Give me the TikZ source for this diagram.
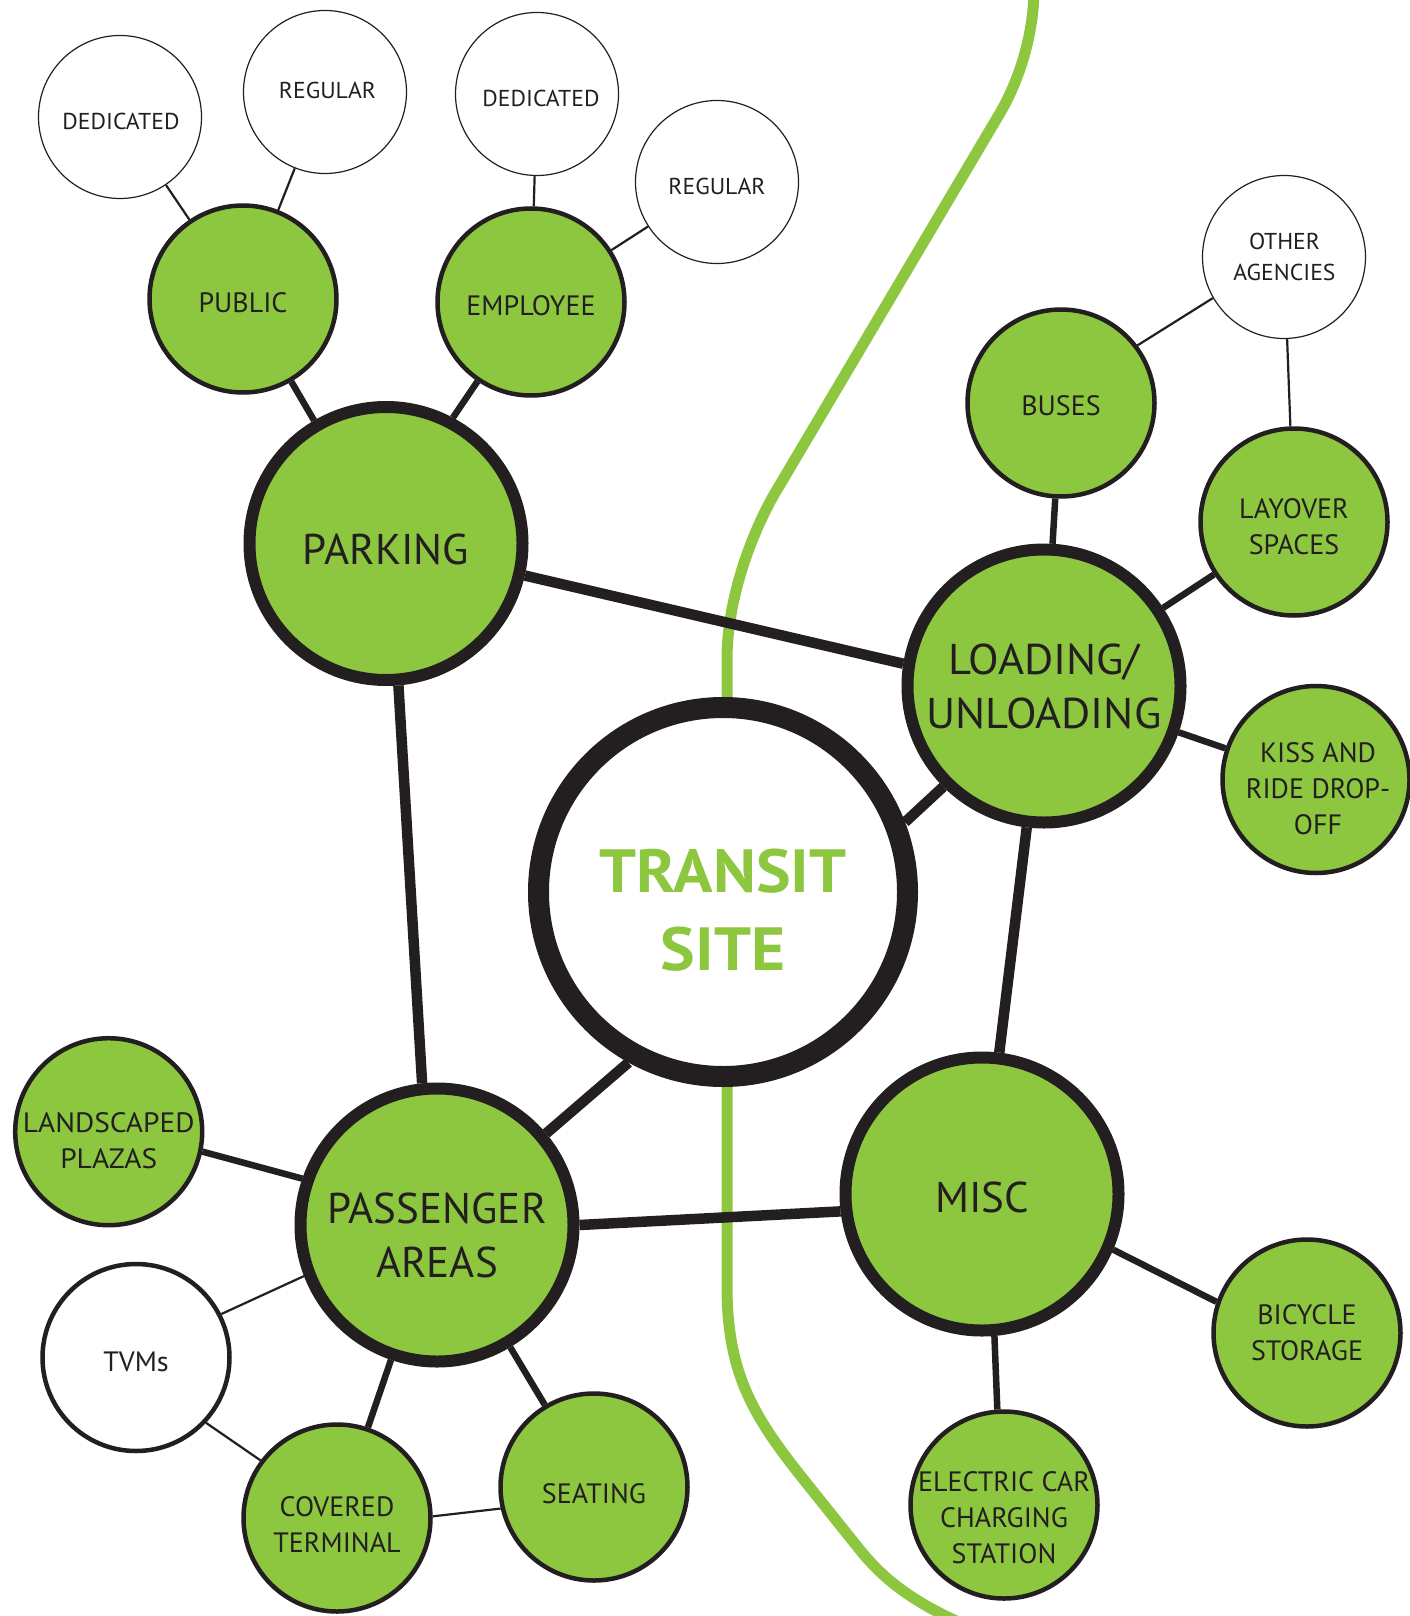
\documentclass[tikz,border=0pt]{standalone}
\usepackage{fontspec}
\setmainfont{PT Sans}
\definecolor{leaf}{HTML}{8DC63F}
\definecolor{ink}{HTML}{231F20}
\pgfdeclarelayer{route}
\pgfdeclarelayer{links}
\pgfsetlayers{route,links,main}
\begin{document}
\begin{tikzpicture}[x=1pt,y=-1pt,
  hub/.style={circle,draw=ink,fill=white,line width=21pt,minimum size=369pt,inner sep=0pt},
  major/.style={circle,draw=ink,fill=leaf,line width=12pt,minimum size=273pt,inner sep=0pt},
  minor/.style={circle,draw=ink,fill=leaf,line width=4.5pt,minimum size=187pt,inner sep=0pt},
  minorwhite/.style={minor,fill=white},
  leafnode/.style={circle,draw=ink,fill=white,line width=1.2pt,minimum size=163pt,inner sep=0pt},
  hubtext/.style={text=leaf,font=\bfseries\fontsize{61}{78}\selectfont\addfontfeature{FakeStretch=1.07},align=center,inner sep=0pt},
  majortext/.style={text=ink,font=\fontsize{43}{54}\selectfont,align=center,inner sep=0pt},
  widemajortext/.style={majortext,font=\fontsize{43}{54}\selectfont\addfontfeature{FakeStretch=1.04}},
  minortext/.style={text=ink,font=\fontsize{28}{36}\selectfont,align=center,inner sep=0pt},
  wideminortext/.style={minortext,font=\fontsize{28}{36}\selectfont\addfontfeature{FakeStretch=1.05}},
  leaftext/.style={text=ink,font=\fontsize{23}{31}\selectfont\addfontfeature{FakeStretch=1.03},align=center,inner sep=0pt},
  heavy/.style={draw=ink,line width=10.5pt},
  medium/.style={draw=ink,line width=6.5pt},
  light/.style={draw=ink,line width=2.2pt},
  routeline/.style={draw=leaf,line width=11pt}
]
\useasboundingbox (0,0) rectangle (1409,1616);

% hub and major categories
\node[hub] (hub) at (723,892) {};
\node[hubtext] (hubt) at (723,910) {TRANSIT\\SITE};
\node[major] (park) at (386,543.5) {};
\node[majortext] (parkt) at (386,549.5) {PARKING};
\node[major] (load) at (1044,686) {};
\node[widemajortext] (loadt) at (1044,686) {LOADING/\\UNLOADING};
\node[major] (pass) at (437,1225) {};
\node[majortext] (passt) at (437,1235) {PASSENGER\\AREAS};
\node[major] (misc) at (982,1194) {};
\node[majortext] (misct) at (982,1197) {MISC};

% minor nodes
\node[minor] (pub) at (243,299) {};
\node[minortext] (pubt) at (243,303) {PUBLIC};
\node[minor] (emp) at (531,302) {};
\node[minortext] (empt) at (531,305.5) {EMPLOYEE};
\node[minor] (bus) at (1061,403) {};
\node[minortext] (bust) at (1061,406) {BUSES};
\node[minor] (lay) at (1294,522) {};
\node[minortext] (layt) at (1294,527) {LAYOVER\\SPACES};
\node[minor] (kiss) at (1316,779.5) {};
\node[minortext] (kisst) at (1318,789) {KISS AND\\RIDE DROP-\\OFF};
\node[minor] (bike) at (1307,1333) {};
\node[minortext] (biket) at (1307,1333) {BICYCLE\\STORAGE};
\node[minor] (elec) at (1004,1505) {};
\node[minortext] (elect) at (1004,1518) {ELECTRIC CAR\\CHARGING\\STATION};
\node[minor] (seat) at (594,1487) {};
\node[minortext] (seatt) at (594,1494) {SEATING};
\node[minor] (cov) at (337,1518) {};
\node[minortext] (covt) at (337,1525) {COVERED\\TERMINAL};
\node[minorwhite] (tvm) at (136,1357.5) {};
\node[minortext] (tvmt) at (136,1362) {TVMs};
\node[minor] (land) at (108.7,1131.7) {};
\node[wideminortext] (landt) at (108.7,1140.5) {LANDSCAPED\\PLAZAS};

% leaf (white) nodes
\node[leafnode] (dedL) at (120,117) {};
\node[leaftext] (dedLt) at (121,121) {DEDICATED};
\node[leafnode] (regL) at (325,92) {};
\node[leaftext] (regLt) at (327.5,90) {REGULAR};
\node[leafnode] (dedM) at (537,94) {};
\node[leaftext] (dedMt) at (541,98.3) {DEDICATED};
\node[leafnode] (regR) at (717,182) {};
\node[leaftext] (regRt) at (717,186) {REGULAR};
\node[leafnode] (oth) at (1284,257) {};
\node[leaftext] (otht) at (1284.5,256.7) {OTHER\\AGENCIES};

% connectors
\begin{pgfonlayer}{links}
\draw[heavy] (park.-13) -- (load.171);
\draw[heavy] (park.-85) -- (pass.96);
\draw[heavy] (load.225) -- (hub.21);
\draw[heavy] (pass.40) -- (hub.241);
\draw[heavy] (pass.0) -- (misc.187);
\draw[heavy] (load) -- (misc);
\draw[medium] (pub) -- (park);
\draw[medium] (park.62) -- (emp.236);
\draw[medium] (bus) -- (load);
\draw[medium] (lay) -- (load);
\draw[medium] (kiss) -- (load);
\draw[medium] (misc.-23) -- (bike.161);
\draw[medium] (misc.-85) -- (elec.94);
\draw[medium] (land.-12) -- (pass.161);
\draw[medium] (pass) -- (cov);
\draw[medium] (pass) -- (seat);
\draw[light] (dedL) -- (pub);
\draw[light] (regL) -- (pub);
\draw[light] (dedM) -- (emp);
\draw[light] (regR) -- (emp);
\draw[light] (oth.210) -- (bus.37);
\draw[light] (oth) -- (lay);
\draw[light] (tvm.27) -- (pass.201);
\draw[light] (tvm.317) -- (cov.143);
\draw[light] (cov.1) -- (seat.193);
\end{pgfonlayer}

% green route
\begin{pgfonlayer}{route}
\draw[routeline] (1034,-8) .. controls (1033,40) and (1017,84) .. (1000,113)
  -- (775,493) .. controls (758,522) and (727,590) .. (727,660) -- (727,720);
\draw[routeline] (727,1070) -- (727,1290) .. controls (728,1370) and (750,1412) .. (800,1475)
  -- (860,1550) .. controls (885,1581) and (915,1603) .. (965,1625);
\end{pgfonlayer}
\end{tikzpicture}
\end{document}
